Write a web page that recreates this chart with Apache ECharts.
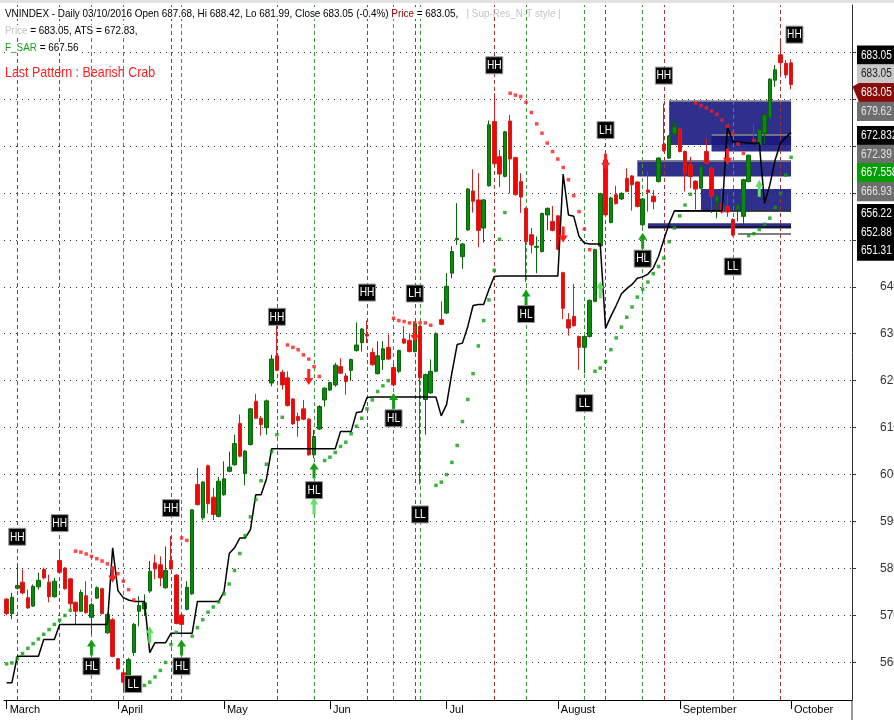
<!DOCTYPE html>
<html>
<head>
<meta charset="utf-8">
<script src="https://cdn.jsdelivr.net/npm/echarts@6/dist/echarts.min.js"></script>
<style>
html,body{margin:0;padding:0;background:#fff;}
#chart{width:894px;height:720px;}
</style>
</head>
<body>
<div id="chart"></div>
<script>
// ---------- trading days (2016) ----------
const daysMar = [3,4,7,8,9,10,11,14,15,16,17,18,21,22,23,24,25,28,29,30,31];
const daysApr = [1,4,5,6,7,8,11,12,13,14,15,19,20,21,22,25,26,27,28,29];
const daysMay = [4,5,6,9,10,11,12,13,16,17,18,19,20,23,24,25,26,27,30,31];
const daysJun = [1,2,3,6,7,8,9,10,13,14,15,16,17,20,21,22,23,24,27,28,29,30];
const daysJul = [1,4,5,6,7,8,11,12,13,14,15,18,19,20,21,22,25,26,27,28,29];
const daysAug = [1,2,3,4,5,8,9,10,11,12,15,16,17,18,19,22,23,24,25,26,29,30,31];
const daysSep = [1,5,6,7,8,9,12,13,14,15,16,19,20,21,22,23,26,27,28,29,30];
const daysOct = [3];
const daysOctAhead = [4,5,6,7,10,11,12,13,14,17,18];
const monthLabels = ['March','April','May','Jun','Jul','August','September','October'];

// ---------- OHLC ----------
const opens = [573.5,570.4,575.8,577.1,573.8,572.0,576.1,579.8,577.1,574.0,
 581.7,580.1,577.8,572.8,570.9,574.2,569.6,573.7,575.7,566.3,
 569.1,560.8,557.8,556.7,562.1,570.9,571.4,575.2,581.2,580.8,
 575.9,581.7,578.6,570.1,571.3,574.6,597.9,590.8,601.9,595.2,
 591.1,595.7,600.7,602.1,610.9,600.2,606.4,615.6,612.0,610.0,
 619.5,625.3,621.8,620.6,616.1,612.4,614.0,611.8,604.2,609.7,
 615.9,618.0,619.1,623.0,621.0,622.2,626.4,628.1,629.9,626.0,
 621.5,624.5,627.1,622.8,622.0,628.9,628.6,626.2,631.6,616.0,
 617.4,622.0,633.0,634.4,642.9,650.0,646.4,652.1,660.4,658.5,
 652.5,661.5,675.2,667.7,663.5,675.3,667.5,662.4,656.7,651.1,
 648.4,647.5,655.3,653.9,655.1,643.0,633.0,633.7,629.4,627.1,
 629.4,636.9,648.7,667.0,653.7,659.6,658.7,663.1,663.6,662.3,
 653.2,660.6,659.3,662.4,670.4,667.4,672.6,673.6,668.8,666.0,
 662.5,661.0,668.8,665.3,658.2,657.7,657.1,654.3,656.4,655.0,
 662.4,671.4,670.2,672.7,676.0,684.0,689.4,687.6,687.68];
const highs = [573.7,574.8,580.8,579.8,575.5,576.6,579.1,580.2,578.7,578.0,
 583.7,580.3,578.0,573.0,575.5,577.3,572.7,576.2,575.9,570.5,
 569.5,561.0,558.5,561.0,568.4,574.1,574.5,581.6,583.0,582.6,
 584.7,586.9,578.8,570.5,577.3,592.6,601.4,598.6,602.1,597.2,
 599.5,602.8,604.9,608.5,612.8,605.2,614.2,617.2,612.5,616.0,
 625.5,631.9,622.3,622.0,616.3,613.2,615.9,612.0,609.5,614.8,
 618.6,619.8,623.8,624.8,621.6,624.7,632.4,631.2,632.8,626.9,
 628.4,628.4,629.8,623.8,626.6,631.6,630.1,632.6,631.8,621.5,
 624.5,630.3,636.9,642.9,648.6,657.8,649.3,661.0,665.0,664.2,
 658.7,675.4,681.2,669.1,673.2,676.6,667.7,664.2,656.9,652.5,
 650.7,655.8,656.9,657.2,655.3,643.2,634.4,640.6,629.6,629.6,
 637.3,648.1,660.0,667.4,659.2,661.5,660.1,665.2,663.8,662.5,
 658.9,664.5,660.6,667.6,679.0,672.3,675.5,673.8,669.0,667.7,
 662.7,665.8,671.6,665.5,659.4,661.0,659.5,654.6,657.6,663.0,
 668.2,674.6,673.6,676.8,684.4,687.2,692.2,688.3,688.42];
const lows = [570.0,569.2,575.5,574.5,571.4,571.8,575.5,577.7,572.8,573.8,
 579.0,575.5,571.3,568.1,570.8,570.4,566.0,573.5,570.2,566.1,
 561.1,558.4,553.9,556.4,561.4,567.7,569.9,574.8,577.7,576.2,
 575.7,579.8,568.1,566.0,571.1,574.4,593.4,590.3,591.7,590.3,
 590.9,595.5,600.5,601.9,603.7,597.7,606.2,611.8,608.3,608.5,
 618.8,622.0,618.1,614.5,610.6,608.1,611.6,604.0,603.5,609.5,
 614.5,617.8,618.7,621.4,617.0,619.9,626.2,626.2,628.0,623.2,
 621.3,622.3,624.4,618.8,621.6,627.8,626.0,626.0,597.9,608.5,
 617.2,621.8,631.8,634.2,641.8,648.9,643.8,651.9,655.8,648.4,
 649.4,661.3,666.0,661.2,663.3,659.9,659.4,655.7,641.0,647.1,
 642.9,647.3,652.1,651.8,647.8,633.1,629.6,631.5,622.3,621.6,
 629.2,636.7,648.5,655.1,653.5,657.5,658.5,660.1,656.2,656.9,
 652.8,656.0,656.5,662.2,668.7,667.2,672.3,668.6,660.3,661.0,
 656.4,660.8,666.1,655.7,654.6,655.6,654.9,650.7,653.9,653.2,
 662.2,670.8,670.0,670.5,675.8,682.6,685.1,684.4,681.99];
const closes = [570.4,573.9,576.4,574.8,571.6,576.2,577.5,578.0,574.0,577.3,
 579.2,575.7,572.5,570.9,574.9,570.6,572.3,575.9,570.4,570.2,
 561.3,558.6,555.8,560.6,568.1,572.1,572.7,579.4,579.9,578.0,
 579.6,579.9,568.3,568.1,576.0,592.5,593.6,598.4,593.8,591.5,
 598.6,599.1,601.6,606.6,603.9,605.0,614.0,612.0,610.6,615.7,
 624.6,622.2,619.1,614.7,610.8,611.5,611.8,604.2,608.1,614.5,
 618.4,619.6,623.3,621.6,619.8,624.5,627.6,631.0,629.5,623.4,
 625.3,626.8,624.6,619.1,626.4,628.0,626.2,632.1,620.6,621.3,
 622.0,630.0,632.0,640.1,647.5,650.3,649.1,660.8,658.2,652.0,
 658.5,674.5,666.2,664.0,673.0,667.2,659.6,659.1,649.6,648.9,
 648.6,655.6,656.7,652.0,648.0,635.4,631.2,631.7,627.1,629.4,
 637.1,647.9,659.8,655.3,658.9,657.7,659.9,660.3,661.7,657.1,
 658.7,660.1,658.1,667.4,669.0,672.1,674.1,668.8,664.1,663.5,
 660.8,665.6,666.3,659.2,659.2,655.9,655.9,651.0,657.4,662.8,
 668.0,671.0,673.4,676.6,684.2,686.2,687.7,685.1,683.05];

// ---------- ATS (trailing stop) ----------
const ats = [555.7,555.7,561.3,561.3,561.3,561.3,561.3,564.9,564.9,564.9,
 568.1,568.1,568.1,568.1,568.1,568.1,568.1,568.1,568.1,568.1,
 584.4,575.3,573.8,573.3,573.0,573.0,573.0,562.1,564.2,564.2,
 564.2,566.2,566.2,566.2,566.2,566.2,573.0,573.0,573.0,573.0,
 573.0,575.0,583.2,584.4,586.5,586.5,588.3,595.7,595.7,599.0,
 605.5,605.5,605.5,605.5,605.5,605.5,605.5,605.5,605.5,605.5,
 605.5,605.5,605.5,609.2,609.2,609.2,613.2,613.4,616.4,616.5,
 616.5,616.5,616.5,616.5,616.5,616.5,616.5,616.5,616.5,616.5,
 616.5,616.5,612.5,614.9,621.6,627.7,628.0,631.5,636.0,636.2,
 636.2,639.4,642.2,642.3,642.3,642.3,642.3,642.3,642.3,642.3,
 642.3,642.3,642.3,642.3,642.3,664.0,655.3,655.0,650.7,649.3,
 649.1,649.1,649.1,631.2,633.7,636.0,638.5,639.6,640.5,641.8,
 642.1,642.7,644.0,646.5,650.0,653.5,656.2,656.2,656.2,656.2,
 656.2,656.2,656.2,656.2,656.2,656.2,674.1,670.9,670.8,670.7,
 670.6,670.5,670.6,657.8,661.7,667.0,670.6,671.8,672.83];

// ---------- F_SAR ----------
const fsar = [559.7,559.9,560.8,561.9,563.0,564.0,565.0,566.0,567.0,568.1,
 569.0,570.0,571.1,583.7,583.5,583.1,582.6,582.1,581.6,581.0,
 580.1,578.9,577.3,575.5,573.3,554.8,555.1,555.8,556.9,558.3,
 560.0,563.8,566.4,586.5,586.0,565.6,567.4,569.1,570.7,571.8,
 572.9,574.6,576.7,579.6,583.2,587.0,591.0,594.7,598.7,602.2,
 604.9,608.5,612.2,627.6,627.1,626.6,625.5,624.6,623.0,620.9,
 603.0,603.7,604.7,606.0,606.9,608.7,610.3,612.0,614.0,615.9,
 617.7,618.9,620.0,633.3,632.8,632.6,632.3,632.3,632.3,632.3,
 631.8,597.7,598.4,600.0,602.6,606.2,611.3,616.0,621.5,627.4,
 632.8,637.2,643.5,650.1,655.8,681.2,680.8,680.5,679.3,677.1,
 674.7,672.7,670.6,668.8,667.2,665.4,662.8,659.4,656.0,652.3,
 647.9,622.0,622.7,624.1,626.6,629.1,631.4,633.5,635.7,637.8,
 639.5,641.0,642.8,644.3,646.1,649.6,652.5,655.1,657.4,659.7,
 679.1,678.6,678.1,677.4,676.7,675.5,674.2,672.7,670.4,668.4,
 650.9,651.3,652.2,653.3,654.6,656.9,659.9,663.8,667.56];

// ---------- swing patterns ----------
const patIdx  = [2,10,16,22,31,33,51,58,68,73,77,78,92,98,109,113,120,124,137,146];
const patType = ['HH','HH','HL','LL','HH','HL','HH','HL','HH','HL','LH','LL','HH','HL','LL','LH','HL','HH','LL','HH'];

// ---------- arrows (tip value) ----------
const sellIdx = [20,57,77,105,113,136];
const sellTip = [577.0,619.1,628.3,649.4,664.9,666.0];
const hlArrowIdx = [16,33,58,73,98,120];
const hlArrowTip = [564.9,564.9,602.6,617.4,639.4,651.5];
const buyIdx = [27,58,112,142];
const buyTip = [567.7,595.1,641.1,662.8];

// ---------- support / resistance ----------
const srLevel = [679.62,672.39,666.93,656.22,652.88,651.31];
const srStart = [125,133,119,126,121,138];
const zoneStart  = [125,133,119,131,121];
const zoneTop    = [679.62,672.39,666.93,660.8,653.5];
const zoneBottom = [670.2,668.8,663.5,656.22,652.4];

// ---------- right-axis value tags ----------
const tagValues = [683.05,683.05,683.05,679.62,672.832,672.39,667.558,666.93,656.22,652.88,651.31];
const tagTexts  = ['683.05','683.05','683.05','679.62','672.832','672.39','667.558','666.93','656.22','652.88','651.31'];

// ================= build =================
const FONT = '"Liberation Sans",Arial,sans-serif';
const pad = n => (n < 10 ? '0' : '') + n;
const dates = [];
const monthAt = {};
[[3,daysMar],[4,daysApr],[5,daysMay],[6,daysJun],[7,daysJul],[8,daysAug],[9,daysSep],[10,daysOct]].forEach(([m, ds], mi) => {
  ds.forEach((d, k) => {
    if (k === 0) monthAt[dates.length] = monthLabels[mi];
    dates.push('2016-' + pad(m) + '-' + pad(d));
  });
});
const axisCats = dates.concat(daysOctAhead.map(d => '2016-10-' + pad(d)));
const lastIdx = dates.length - 1;

const candleData = opens.map((o, i) => [o, closes[i], lows[i], highs[i]]);

const vLines = patIdx.map((d, k) => ({
  xAxis: dates[d],
  lineStyle: { color: (patType[k] === 'HH' || patType[k] === 'LH') ? '#9e3535' : '#3c963c', type: [4, 3], width: 1 }
}));
const srColors = ['#8c8c8c','#8c8c8c','#8c8c8c','#111','#111','#555'];
const srLines = srLevel.map((v, k) => [
  { coord: [dates[srStart[k]], v], lineStyle: { color: srColors[k], width: 1.5, type: 'solid' } },
  { coord: [dates[lastIdx], v] }
]);
const zones = zoneTop.map((t, k) => [
  { coord: [dates[zoneStart[k]], t] },
  { coord: [dates[lastIdx], zoneBottom[k]] }
]);

const arrows = [];
sellIdx.forEach((d, k) => arrows.push([d, sellTip[k], 0]));
hlArrowIdx.forEach((d, k) => arrows.push([d, hlArrowTip[k], 1]));
buyIdx.forEach((d, k) => arrows.push([d, buyTip[k], 2]));
const arrowColors = ['#ff2020', '#14a014', '#66dd66'];

const patAdjust = { 22: [10, -37], 51: [0, 20], 146: [14, 21] };

const tagStyles = [
  { bg: '#000000', fg: '#ffffff' },
  { bg: '#c8c8c8', fg: '#202020' },
  { bg: '#8b0b0b', fg: '#ffffff', arrow: true },
  { bg: '#6e6e6e', fg: '#e2e2e2' },
  { bg: '#000000', fg: '#ffffff' },
  { bg: '#6e6e6e', fg: '#e2e2e2' },
  { bg: '#00a000', fg: '#ffffff' },
  { bg: '#6e6e6e', fg: '#e2e2e2' },
  { bg: '#000000', fg: '#ffffff' },
  { bg: '#000000', fg: '#ffffff' },
  { bg: '#000000', fg: '#ffffff' }
];

function tagLayout(api) {
  const ys = tagValues.map(v => api.coord([0, v])[1]);
  const h = 18.7, a = 2;
  const pos = ys.map((y, i) => y + (i === a ? 8 : 3));
  for (let k = a - 1; k >= 0; k--) pos[k] = Math.min(pos[k], pos[k + 1] - h);
  for (let k = a + 1; k < pos.length; k++) pos[k] = Math.max(pos[k], pos[k - 1] + h);
  return { ys, pos, h };
}

const chart = echarts.init(document.getElementById('chart'), null, { width: 894, height: 720 });

const txt = (x, y, sx, style) => ({ type: 'text', x: x, y: y, scaleX: sx, scaleY: 1, z: 100, style: style });

const option = {
  animation: false,
  backgroundColor: '#ffffff',
  grid: { left: 4, right: 42, top: 5, bottom: 20, containLabel: false, outerBoundsMode: 'none' },
  xAxis: {
    type: 'category',
    data: axisCats,
    boundaryGap: true,
    axisLine: { lineStyle: { color: '#000', width: 1 } },
    axisTick: { show: true, alignWithLabel: true, length: 9, interval: i => monthAt[i] !== undefined, lineStyle: { color: '#000' } },
    axisLabel: {
      interval: i => monthAt[i] !== undefined,
      formatter: (v, i) => monthAt[i] || '',
      align: 'left', margin: 4, padding: [0, 0, 0, 3],
      color: '#000', fontSize: 11, fontFamily: FONT
    },
    splitLine: { show: false }
  },
  yAxis: {
    type: 'value', position: 'right', min: 552, max: 700, splitNumber: 15,
    axisLine: { show: true, lineStyle: { color: '#333' } },
    axisTick: { show: true, length: 4, lineStyle: { color: '#333' } },
    axisLabel: {
      margin: 28, color: '#333', fontSize: 12, fontFamily: FONT,
      showMinLabel: false, showMaxLabel: false,
      formatter: v => (Math.abs(v % 10) < 1e-6 && v <= 640) ? String(v) : ''
    },
    splitLine: { show: true, showMinLine: false, showMaxLine: false, lineStyle: { color: '#333', type: [1, 5], width: 1 } }
  },
  graphic: [
    { type: 'rect', x: 0, y: 0, z: 100, shape: { width: 894, height: 3 }, style: { fill: '#e2e2e2' } },
    { type: 'line', z: 100, shape: { x1: 852, y1: 700, x2: 852, y2: 720 }, style: { stroke: '#333', lineWidth: 1 } },
    txt(5, 8, 0.9, {
        text: '{a|VNINDEX - Daily 03/10/2016 Open 687.68, Hi 688.42, Lo 681.99, Close 683.05 (-0.4%) }{r|Price}{a| = 683.05, }{g|  | Sup-Res_N-T style |}',
        rich: {
          a: { fill: '#000', fontSize: 11, fontFamily: FONT, backgroundColor: '#fff' },
          r: { fill: '#a00000', fontSize: 11, fontFamily: FONT, backgroundColor: '#fff' },
          g: { fill: '#c4c4c4', fontSize: 11, fontFamily: FONT }
        } }),
    txt(5, 25, 0.9, {
        text: '{g|Price}{a| = 683.05, ATS = 672.83,}',
        rich: {
          a: { fill: '#000', fontSize: 11, fontFamily: FONT, backgroundColor: '#fff' },
          g: { fill: '#c4c4c4', fontSize: 11, fontFamily: FONT, backgroundColor: '#fff' }
        } }),
    txt(5, 42, 0.9, {
        text: '{s|F_SAR}{a| = 667.56}',
        rich: {
          a: { fill: '#000', fontSize: 11, fontFamily: FONT, backgroundColor: '#fff' },
          s: { fill: '#1a9a1a', fontSize: 11, fontFamily: FONT, backgroundColor: '#fff' }
        } }),
    txt(5, 65, 0.83, { text: 'Last Pattern : Bearish Crab', fill: '#ff2020', fontSize: 15, fontFamily: FONT })
  ],
  series: [
    {
      name: 'levels', type: 'line', z: 1, silent: true,
      data: dates.map(() => null), showSymbol: false,
      markArea: { silent: true, z: 1, itemStyle: { color: 'rgba(24,24,128,0.9)' }, data: zones },
      markLine: { silent: true, z: 1.5, symbol: 'none', label: { show: false }, data: vLines.concat(srLines) }
    },
    {
      name: 'VNINDEX', type: 'candlestick', z: 3, barWidth: 4,
      data: candleData,
      itemStyle: { color: '#0a8a0a', color0: '#ff0000', borderColor: '#0a640a', borderColor0: '#cc2222', borderWidth: 1 }
    },
    {
      name: 'ATS', type: 'line', z: 4, data: ats, showSymbol: false, symbol: 'none',
      lineStyle: { color: '#000', width: 1.5 }
    },
    {
      name: 'F_SAR', type: 'scatter', z: 5, symbol: 'rect', symbolSize: 3.5,
      data: fsar.map((v, i) => [i, v]),
      itemStyle: { color: p => (p.value[1] > closes[p.value[0]] ? '#ff1a1a' : '#0aa00a') }
    },
    {
      name: 'arrows', type: 'custom', z: 6, clip: false, silent: true,
      data: arrows,
      renderItem: (params, api) => {
        const p = api.coord([api.value(0), api.value(1)]);
        const kind = api.value(2);
        const x = p[0], y = p[1];
        const s = kind === 0 ? -1 : 1;
        const hw = kind === 2 ? 4 : 4.5, hh = 7, sw = 1.5, L = kind === 2 ? 17 : 16;
        const pts = [[x, y], [x + hw, y + s * hh], [x + sw, y + s * hh], [x + sw, y + s * L], [x - sw, y + s * L], [x - sw, y + s * hh], [x - hw, y + s * hh]];
        return { type: 'polygon', shape: { points: pts }, style: { fill: arrowColors[kind] } };
      }
    },
    {
      name: 'patterns', type: 'custom', z: 7, clip: false, silent: true,
      data: patIdx.map((d, k) => [d, k]),
      renderItem: (params, api) => {
        const k = params.dataIndex;
        const idx = patIdx[k], t = patType[k];
        const top = (t === 'HH' || t === 'LH');
        const p = api.coord([idx, top ? highs[idx] : lows[idx]]);
        let cx = p[0], cy = top ? p[1] - 28 : p[1] + (t === 'HL' ? 32 : 30);
        const adj = patAdjust[idx];
        if (adj) { cx += adj[0]; cy += adj[1]; }
        return { type: 'group', children: [
          { type: 'rect', shape: { x: cx - 8.5, y: cy - 8.5, width: 17, height: 17 }, style: { fill: '#000', stroke: '#9a9a9a', lineWidth: 1 } },
          { type: 'text', x: cx, y: cy + 0.5, scaleX: 0.85, style: { text: t, x: 0, y: 0, align: 'center', verticalAlign: 'middle', fill: '#fff', font: '12px ' + FONT } }
        ] };
      }
    },
    {
      name: 'tags', type: 'custom', z: 8, clip: false, silent: true,
      data: tagValues.map(v => [0, v]),
      renderItem: (params, api) => {
        const i = params.dataIndex;
        const cs = params.coordSys;
        const L = tagLayout(api);
        const xr = cs.x + cs.width;
        const x0 = xr + 5, cy = L.pos[i], h = L.h + 0.6, st = tagStyles[i];
        const shape = st.arrow
          ? { type: 'polygon', shape: { points: [[xr + 0.5, L.ys[i] + 2], [x0 + 2, cy - h / 2], [x0 + 60, cy - h / 2], [x0 + 60, cy + h / 2], [x0 + 2, cy + h / 2]] }, style: { fill: st.bg } }
          : { type: 'rect', shape: { x: x0, y: cy - h / 2, width: 60, height: h }, style: { fill: st.bg } };
        return { type: 'group', children: [shape,
          { type: 'text', x: x0 + 4, y: cy, scaleX: 0.84, style: { text: tagTexts[i], x: 0, y: 0, verticalAlign: 'middle', fill: st.fg, font: '12px ' + FONT } }
        ] };
      }
    }
  ]
};
chart.setOption(option);
</script>
</body>
</html>
